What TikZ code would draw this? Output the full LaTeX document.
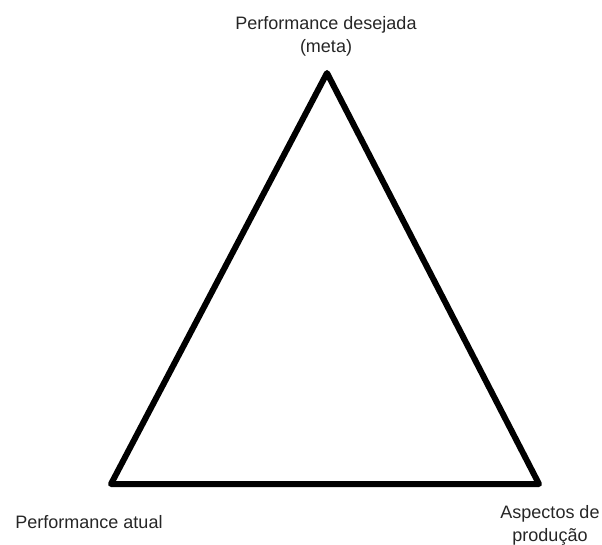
\documentclass[tikz,border=0pt]{standalone}
\usepackage{fontspec}
\setmainfont{Liberation Sans}
\begin{document}
\begin{tikzpicture}[x=1pt,y=-1pt,
		lbl/.style={align=center,inner sep=0pt,font=\fontsize{18}{23}\selectfont,text=black!85}]
		\useasboundingbox (0,0) rectangle (602,545);
		\coordinate (top) at (327,73);
		\coordinate (bl) at (111,484);
		\coordinate (br) at (539,484);
		\draw[line width=6pt,line join=round] (top) -- (br) -- (bl) -- cycle;
		% labels
		\node[lbl] (meta) at (326,36) {Performance desejada\\(meta)};
		\node[lbl] (atual) at (89,522) {Performance atual};
		\node[lbl] (prod) at (550,525) {Aspectos de\\produção};
	\end{tikzpicture}
\end{document}
